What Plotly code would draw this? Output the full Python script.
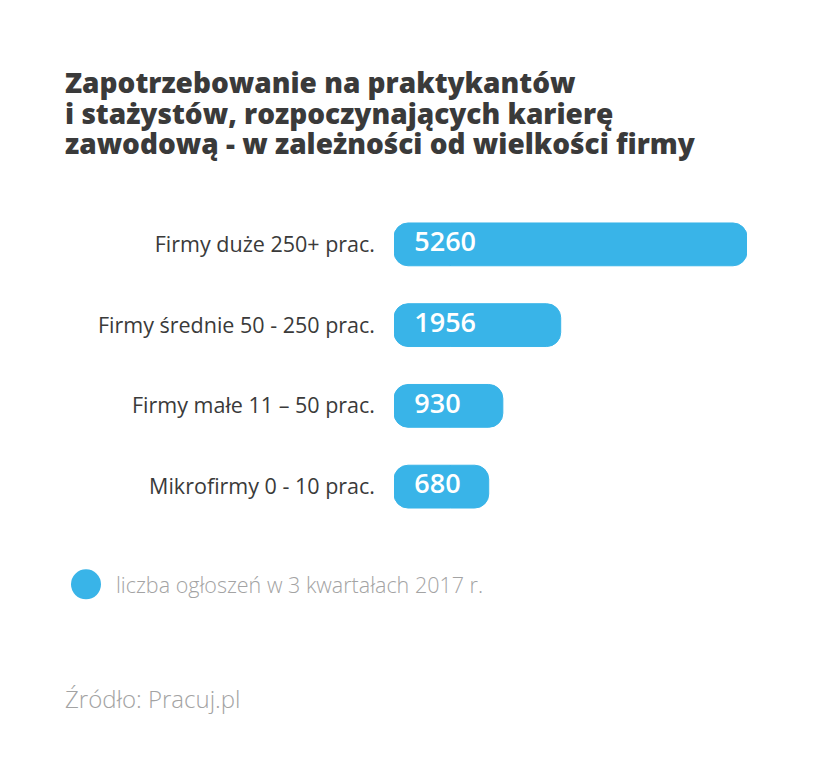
import plotly.graph_objects as go

# ---- data ----
categories = [
    "Firmy duże 250+ prac.",
    "Firmy średnie 50 - 250 prac.",
    "Firmy małe 11 – 50 prac.",
    "Mikrofirmy 0 - 10 prac.",
]
offers = [5260, 1956, 930, 680]
value_labels = ["5260", "1956", "930", "680"]

title_lines = [
    "Zapotrzebowanie na praktykantów",
    "i stażystów, rozpoczynających karierę",
    "zawodową - w zależności od wielkości firmy",
]
legend_label = "liczba ogłoszeń w 3 kwartałach 2017 r."
source_label = "Źródło: Pracuj.pl"

# ---- style constants ----
BLUE = "#39b4e8"
DARK = "#3a3a3a"
GREY = "#a3a3a3"
PLATE = 1000          # left label plate (axis units) drawn in front of zero
TEXT_X = -640         # where the value text begins (axis units)
W, H = 819, 762
PL, PR, PT, PB = 394, 747, 203.5, 527.5   # plot area in pixels


def px_x(x):
    return (x - PL) / (PR - PL)


def px_y(y):
    return (PB - y) / (PB - PT)


fig = go.Figure()

# label plate (extends left of zero so every bar has rounded left end)
fig.add_trace(go.Bar(
    y=categories, x=[-PLATE] * len(categories), orientation="h",
    marker=dict(color=BLUE, line=dict(width=1, color=BLUE)),
    width=0.53, hoverinfo="skip", showlegend=False,
))
# the values
fig.add_trace(go.Bar(
    y=categories, x=offers, orientation="h",
    marker=dict(color=BLUE, line=dict(width=1, color=BLUE)),
    width=0.53, hoverinfo="skip", showlegend=False,
))
# value labels
fig.add_trace(go.Scatter(
    y=categories, x=[TEXT_X] * len(categories), mode="text",
    text=value_labels, textposition="middle right",
    textfont=dict(family="Open Sans", size=27, color="white", weight=600),
    hoverinfo="skip", showlegend=False, cliponaxis=False,
))

# title: line spacing follows the (smaller) base font size, glyphs use 28px
title_text = "<br>".join(
    f"<span style='font-size:28px'>{line}</span>" for line in title_lines
)

annotations = [
    dict(text=title_text, xref="paper", yref="paper",
         x=px_x(63), y=px_y(112), align="left",
         xanchor="left", yanchor="middle", showarrow=False,
         font=dict(family="Open Sans", size=23.5, color=DARK, weight=800)),
    dict(text=legend_label, xref="paper", yref="paper",
         x=px_x(114), y=px_y(585),
         xanchor="left", yanchor="middle", showarrow=False,
         font=dict(family="Open Sans", size=21.5, color=GREY, weight=300)),
    dict(text=source_label, xref="paper", yref="paper",
         x=px_x(63), y=px_y(700),
         xanchor="left", yanchor="middle", showarrow=False,
         font=dict(family="Open Sans", size=24, color=GREY, weight=300)),
]

fig.update_layout(
    width=W, height=H,
    margin=dict(l=PL, r=W - PR, t=PT, b=H - PB, pad=0),
    paper_bgcolor="white", plot_bgcolor="white",
    barmode="relative", barcornerradius=14,
    xaxis=dict(range=[-PLATE, max(offers)], visible=False, fixedrange=True),
    yaxis=dict(
        categoryorder="array", categoryarray=categories, autorange="reversed",
        showgrid=False, zeroline=False, showline=False, ticks="",
        ticklabelstandoff=18,
        tickfont=dict(family="Open Sans", size=21.5, color=DARK, weight=500),
    ),
    showlegend=False,
    shapes=[dict(
        type="circle", xref="paper", yref="paper", xsizemode="pixel", ysizemode="pixel",
        xanchor=px_x(86), yanchor=px_y(585),
        x0=-15, x1=15, y0=-15, y1=15,
        fillcolor=BLUE, line=dict(width=0),
    )],
    annotations=annotations,
)

fig.write_html("out.html")
